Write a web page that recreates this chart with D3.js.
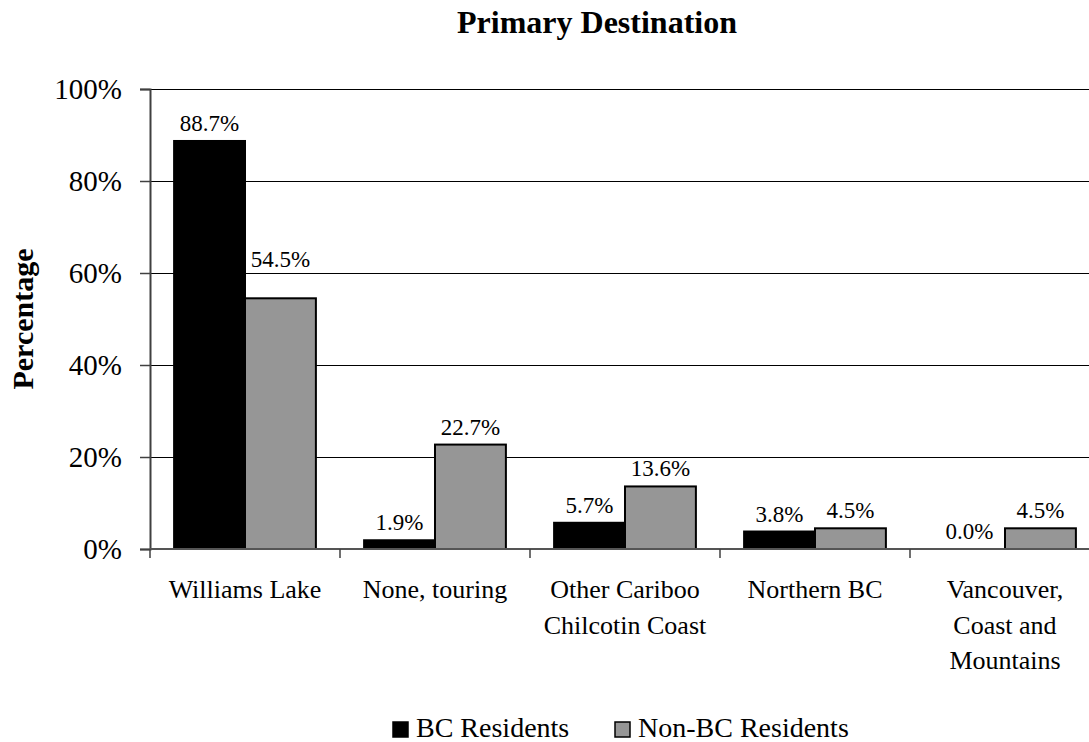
<!DOCTYPE html>
<html>
<head>
<meta charset="utf-8">
<script src="https://cdn.jsdelivr.net/npm/d3@7"></script>
<style>
  html, body { margin: 0; padding: 0; background: #fff; }
  svg { display: block; }
  svg text { font-family: "Liberation Serif", "Times New Roman", serif; }
</style>
</head>
<body>
<svg id="chart" width="1089" height="742"></svg>
<script>
// Primary destination of visitors, by residency
const categories = [
  ["Williams Lake"],
  ["None, touring"],
  ["Other Cariboo", "Chilcotin Coast"],
  ["Northern BC"],
  ["Vancouver,", "Coast and", "Mountains"]
];
const seriesNames = ["BC Residents", "Non-BC Residents"];
const bcResidents = [88.7, 1.9, 5.7, 3.8, 0.0];
const nonBcResidents = [54.5, 22.7, 13.6, 4.5, 4.5];
const yTicks = [0, 20, 40, 60, 80, 100];
const seriesColors = ["#000000", "#969696"];

const FONT = "Liberation Serif, Times New Roman, serif";
const svg = d3.select("#chart");
const plotLeft = 150, plotRight = 1100, plotTop = 89, plotBottom = 549;

const catKeys = categories.map(c => c.join(" "));
const x0 = d3.scaleBand().domain(catKeys).range([plotLeft, plotRight]).paddingInner(0).paddingOuter(0);
const x1 = d3.scaleBand().domain(seriesNames).range([0, x0.bandwidth()]).paddingInner(0).paddingOuter(0.34);
const y = d3.scaleLinear().domain([0, 100]).range([plotBottom, plotTop]);

// Title
svg.append("text")
  .attr("x", 597).attr("y", 33)
  .attr("text-anchor", "middle")
  .attr("font-family", FONT)
  .attr("font-weight", "bold").attr("font-size", 32)
  .text("Primary Destination");

// Y axis title
svg.append("text")
  .attr("transform", `translate(33,${(plotTop + plotBottom) / 2}) rotate(-90)`)
  .attr("text-anchor", "middle")
  .attr("font-family", FONT)
  .attr("font-weight", "bold").attr("font-size", 30)
  .text("Percentage");

// Horizontal gridlines
svg.append("g").selectAll("line")
  .data(yTicks.filter(t => t > 0))
  .join("line")
  .attr("x1", plotLeft).attr("x2", plotRight)
  .attr("y1", d => Math.round(y(d)) + 0.5).attr("y2", d => Math.round(y(d)) + 0.5)
  .attr("stroke", "#000").attr("stroke-width", 1.2);

// Y axis with percentage ticks
const yAxis = d3.axisLeft(y).tickValues(yTicks).tickSize(10).tickPadding(18).tickFormat(d => d + "%");
const gy = svg.append("g").attr("transform", `translate(${plotLeft},0)`).call(yAxis)
  .attr("font-family", FONT);
gy.select(".domain").attr("stroke", "#404040").attr("stroke-width", 2);
gy.selectAll(".tick line").attr("stroke", "#404040").attr("stroke-width", 1.5);
gy.selectAll(".tick text").attr("font-size", 29).attr("fill", "#000");

// Bars
const data = categories.map((c, i) => ({
  key: catKeys[i],
  values: [
    { series: seriesNames[0], value: bcResidents[i], color: seriesColors[0] },
    { series: seriesNames[1], value: nonBcResidents[i], color: seriesColors[1] }
  ]
}));

const groups = svg.append("g").selectAll("g")
  .data(data).join("g")
  .attr("transform", d => `translate(${x0(d.key)},0)`);

groups.selectAll("rect")
  .data(d => d.values.filter(v => v.value > 0))
  .join("rect")
  .attr("x", v => x1(v.series))
  .attr("y", v => y(v.value))
  .attr("width", x1.bandwidth())
  .attr("height", v => y(0) - y(v.value))
  .attr("fill", v => v.color)
  .attr("stroke", "#000").attr("stroke-width", 2);

// Value labels above bars; lifted clear of a gridline when they would cross it
const gridYs = yTicks.filter(t => t > 0).map(t => y(t));
groups.selectAll("text.val")
  .data(d => d.values)
  .join("text")
  .attr("class", "val")
  .attr("x", v => x1(v.series) + x1.bandwidth() / 2)
  .attr("y", v => {
    let base = y(v.value) - 10;
    const capTop = base - 17;
    const hit = gridYs.find(g => g > capTop && g < base + 3);
    if (hit !== undefined) base = hit - 6;
    return base;
  })
  .attr("text-anchor", "middle")
  .attr("font-family", FONT)
  .attr("font-size", 23)
  .text(v => v.value.toFixed(1) + "%");

// X axis baseline and category ticks
svg.append("line")
  .attr("x1", plotLeft).attr("x2", plotRight)
  .attr("y1", plotBottom).attr("y2", plotBottom)
  .attr("stroke", "#555").attr("stroke-width", 2);
svg.append("g").selectAll("line")
  .data(catKeys)
  .join("line")
  .attr("x1", d => x0(d)).attr("x2", d => x0(d))
  .attr("y1", plotBottom).attr("y2", plotBottom + 9)
  .attr("stroke", "#404040").attr("stroke-width", 1.5);

// Category labels
const catLabels = svg.append("g").selectAll("text")
  .data(categories)
  .join("text")
  .attr("text-anchor", "middle")
  .attr("font-family", FONT)
  .attr("font-size", 26);
catLabels.selectAll("tspan")
  .data((c, i) => c.map(line => ({ line, cx: x0(catKeys[i]) + x0.bandwidth() / 2 })))
  .join("tspan")
  .attr("x", d => d.cx)
  .attr("y", (d, j) => 598 + j * 35.5)
  .text(d => d.line);

// Legend
const legendItems = [
  { name: seriesNames[0], color: seriesColors[0], x: 393 },
  { name: seriesNames[1], color: seriesColors[1], x: 615 }
];
const lg = svg.append("g").selectAll("g").data(legendItems).join("g")
  .attr("transform", d => `translate(${d.x},722)`);
lg.append("rect")
  .attr("width", 15).attr("height", 15)
  .attr("fill", d => d.color)
  .attr("stroke", "#000").attr("stroke-width", 1.5);
lg.append("text")
  .attr("x", 23).attr("y", 15)
  .attr("font-family", FONT)
  .attr("font-size", 28)
  .text(d => d.name);
</script>
</body>
</html>
